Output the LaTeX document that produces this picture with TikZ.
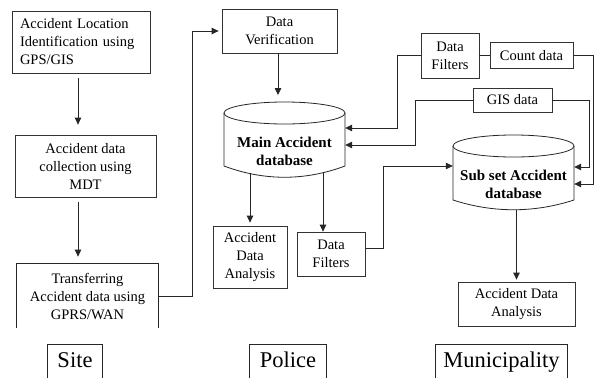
\documentclass[tikz,border=0pt]{standalone}
\usepackage{fontspec}
\setmainfont{Liberation Serif}
\usetikzlibrary{arrows.meta,calc}
\begin{document}
\begin{tikzpicture}[x=1pt,y=-1pt,
  ln/.style={draw=black!85, line width=0.8pt},
  arr/.style={ln, -{Triangle[length=7pt,width=6.5pt]}},
  box/.style={draw=black!80, line width=0.8pt, inner sep=0pt, align=center,
              font=\fontsize{14.5}{18}\selectfont},
  openbox/.style={box, draw=none},
  dbtext/.style={inner sep=0pt, align=center,
                 font=\bfseries\fontsize{15}{18}\selectfont},
  zone/.style={anchor=north, inner xsep=0pt, inner ysep=7pt,
               text height=16pt, text depth=4pt,
               font=\fontsize{22.5}{26}\selectfont}]
\fill[white] (0,0) rectangle (594,378);
\useasboundingbox (0,0) rectangle (594,378);

% ---- Site column
\node[box, minimum width=138pt, minimum height=62pt, text width=122pt,
      inner xsep=8pt, align=left] (loc) at (81,42)
  {Accident Location\\Identification using\\GPS/GIS};
\node[box, minimum width=141pt, minimum height=62pt] (mdt) at (85.5,166)
  {Accident data\\collection using\\MDT};
\node[openbox, minimum width=141pt, minimum height=64pt] (tr) at (87.5,296)
  {Transferring\\Accident data using\\GPRS/WAN};
\draw[ln] (tr.south west) |- (tr.north east) -- (tr.south east);

% ---- Police column
\node[box, minimum width=115pt, minimum height=44pt] (dv) at (279.5,31)
  {Data\\Verification};
\draw[ln] (224,113) -- (224,166) .. controls (264,181) and (305,181) .. (345,166) -- (345,113);
\draw[ln] (284.5,113) ellipse [x radius=60.5pt, y radius=11pt];
\coordinate (maindbtop) at (284.5,102);
\node[dbtext, minimum width=121pt, minimum height=50pt] (maindb) at (284.5,151)
  {Main Accident\\database};
\node[box, minimum width=74pt, minimum height=62pt] (ana1) at (250,257)
  {Accident\\Data\\Analysis};
\node[box, minimum width=68pt, minimum height=44pt] (df2) at (331,254)
  {Data\\Filters};

% ---- Municipality column
\node[box, minimum width=58pt, minimum height=45pt] (df1) at (450,55.5)
  {Data\\Filters};
\node[box, minimum width=83pt, minimum height=26pt] (count) at (531.5,55.5)
  {Count data};
\node[box, minimum width=79pt, minimum height=24pt] (gis) at (512.5,100)
  {GIS data};
\draw[ln] (453,146) -- (453,200) .. controls (493,213) and (534,213) .. (574,200) -- (574,146);
\draw[ln] (513.5,146) ellipse [x radius=60.5pt, y radius=11pt];
\node[dbtext, minimum width=121pt, minimum height=40pt] (subdb) at (513.5,184)
  {Sub set Accident\\database};
\node[box, minimum width=117pt, minimum height=44pt] (ana2) at (516.5,304)
  {Accident Data\\Analysis};

% ---- column captions
\node[zone, minimum width=54pt] (site) at (75,344) {Site};
\node[zone, minimum width=76pt] (police) at (288,344) {Police};
\node[zone, minimum width=131pt] (muni) at (501.5,344) {Municipality};
\foreach \z in {site,police,muni}
  \draw[ln] (\z.south west) |- (\z.north east) -- (\z.south east);

% ---- connectors
\draw[arr, shorten <=5pt, shorten >=10pt] ([xshift=-3pt]loc.south) -- ([xshift=-3pt]loc.south |- mdt.north);
\draw[arr, shorten <=5pt, shorten >=7pt] ([xshift=-7.5pt]mdt.south) -- ([xshift=-7.5pt]mdt.south |- tr.north);
\draw[arr, shorten >=3pt] (tr.east) -- ++(34,0) |- (dv.west);
\draw[arr, shorten >=7pt] ([xshift=-1.5pt]dv.south) -- ([xshift=-1.5pt]dv.south |- maindbtop);
\draw[arr] (df1.west) -- ++(-23,0) |- ([yshift=23pt]maindb.east);
\draw[arr] (gis.west) -- ++(-57,0) |- ([yshift=6pt]maindb.east);
\draw[ln] (df1.east) -- (count.west);
\draw[arr] (count.east) -- ++(20,0) |- (subdb.east);
\draw[arr] (gis.east) -- ++(37,0) |- ([yshift=17pt]subdb.east);
\draw[arr, shorten >=3pt] ([yshift=3pt]maindb.south -| ana1.north) -- (ana1.north);
\draw[arr] ([xshift=-8pt,yshift=3pt]maindb.south -| df2.north) -- ([xshift=-8pt]df2.north);
\draw[arr] ([yshift=6pt]df2.east) -- ++(18,0) |- ([yshift=18pt]subdb.west);
\draw[arr, shorten >=2pt] ([yshift=-5.5pt]subdb.south -| ana2.north) -- (ana2.north);
\end{tikzpicture}
\end{document}
